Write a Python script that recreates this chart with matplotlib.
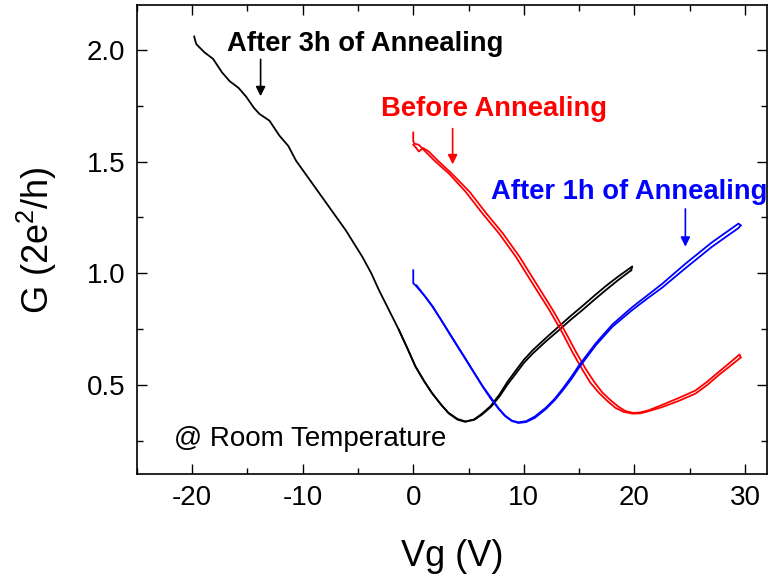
import matplotlib
matplotlib.use("Agg")
import matplotlib.pyplot as plt
from matplotlib.ticker import MultipleLocator

# -----------------------------------------
# STYLE
# -----------------------------------------
plt.rcParams["font.family"] = ["Liberation Sans", "DejaVu Sans"]
plt.rcParams["mathtext.default"] = "regular"
plt.rcParams["axes.unicode_minus"] = False

# -----------------------------------------
# DATA
# -----------------------------------------
# after 3h of annealing, forward sweep (-20 -> 20 V)
vg_3h_fwd = [-19.8, -19.7, -19.6, -18.9, -18.1, -17.3, -16.6, -15.8, -15.1, -14.4, -13.9,
             -13.0, -12.1, -11.3, -10.6, -9.1, -7.6, -6.1, -4.6, -3.8, -3.1, -2.2, -1.3,
             -0.5, 0.2, 1.0, 1.7, 2.5, 3.2, 4.0, 4.7, 5.5, 6.2, 7.0, 7.8, 8.5, 9.3,
             10.0, 10.8, 12.0, 13.2, 14.2, 15.3, 16.3, 17.4, 18.5, 19.7]
g_3h_fwd = [2.06, 2.04, 2.025, 1.99, 1.96, 1.90, 1.86, 1.83, 1.79, 1.74, 1.713,
            1.683, 1.616, 1.57, 1.504, 1.40, 1.296, 1.192, 1.073, 1.0, 0.924, 0.835, 0.746,
            0.66, 0.582, 0.515, 0.463, 0.412, 0.374, 0.347, 0.336, 0.343, 0.366, 0.40, 0.448, 0.50, 0.552,
            0.598, 0.64, 0.695, 0.746, 0.79, 0.835, 0.878, 0.924, 0.968, 1.013]
# after 3h of annealing, backward sweep (20 -> -1 V)
vg_3h_bwd = [19.7, 19.8, 18.5, 17.4, 16.3, 15.3, 14.2, 13.2, 12.0, 10.8, 10.0, 9.3, 8.5,
             7.8, 7.0, 6.2, 5.5, 4.7, 4.0, 3.2, 2.5, 1.7, 1.0, 0.2, -0.5, -1.3]
g_3h_bwd = [1.013, 1.03, 0.984, 0.942, 0.896, 0.853, 0.807, 0.763, 0.71, 0.655, 0.612, 0.566, 0.512,
            0.457, 0.405, 0.37, 0.345, 0.334, 0.344, 0.372, 0.412, 0.462, 0.515, 0.582, 0.66, 0.746]

# before annealing, forward sweep (0 -> 30 V)
vg_0h_fwd = [0.0, 0.0, 0.1, 0.5, 0.8, 1.15, 2.0, 3.25, 4.76, 6.26, 7.77, 9.28, 10.78,
             12.3, 13.5, 14.4, 15.3, 16.0, 16.8, 17.6, 18.3, 19.0, 19.8, 20.5, 21.0, 22.5,
             24.0, 25.5, 26.6, 27.6, 28.6, 29.6]
g_0h_fwd = [1.63, 1.59, 1.58, 1.575, 1.56, 1.542, 1.50, 1.445, 1.363, 1.267, 1.177, 1.073, 0.954,
            0.835, 0.731, 0.645, 0.567, 0.51, 0.463, 0.425, 0.396, 0.379, 0.371, 0.372, 0.378, 0.40,
            0.428, 0.46, 0.50, 0.543, 0.582, 0.622]
# before annealing, backward sweep (30 -> 0 V)
vg_0h_bwd = [29.6, 29.5, 28.6, 27.6, 26.6, 25.5, 24.0, 22.5, 21.3, 20.5, 19.9, 19.2, 18.6,
             17.9, 17.1, 16.4, 15.6, 14.7, 13.8, 12.6, 11.1, 9.6, 8.1, 6.6, 5.1, 3.5,
             2.2, 1.4, 0.9, 0.5, 0.2, 0.0]
g_0h_bwd = [0.622, 0.636, 0.598, 0.557, 0.515, 0.474, 0.441, 0.41, 0.386, 0.376, 0.374, 0.382, 0.40,
            0.428, 0.465, 0.51, 0.57, 0.648, 0.732, 0.836, 0.955, 1.074, 1.178, 1.268, 1.364, 1.445,
            1.505, 1.545, 1.56, 1.545, 1.565, 1.575]

# after 1h of annealing, forward sweep (0 -> 30 V)
vg_1h_fwd = [0.0, 0.0, 0.3, 1.0, 1.74, 2.5, 3.25, 4.0, 4.76, 5.5, 6.26, 7.0, 7.77, 8.3, 8.9,
             9.5, 10.2, 11.0, 12.0, 12.8, 13.5, 14.3, 15.0, 16.5, 18.0, 19.8, 21.2, 22.5,
             24.6, 27.0, 29.4, 29.6]
g_1h_fwd = [1.013, 0.955, 0.94, 0.9, 0.85, 0.792, 0.731, 0.672, 0.612, 0.553, 0.493, 0.438, 0.389,
            0.36, 0.338, 0.329, 0.333, 0.352, 0.392, 0.432, 0.474, 0.526, 0.578, 0.677, 0.76, 0.835,
            0.888, 0.935, 1.022, 1.118, 1.202, 1.214]
# after 1h of annealing, backward sweep (30 -> 0 V)
vg_1h_bwd = [29.6, 29.4, 27.0, 24.6, 22.5, 21.2, 19.8, 18.0, 16.5, 15.0, 14.3, 13.5, 12.8,
             12.0, 11.0, 10.2, 9.5, 8.9, 8.3, 7.77, 6.26, 4.76, 3.25, 1.74, 0.3]
g_1h_bwd = [1.214, 1.222, 1.138, 1.042, 0.952, 0.902, 0.848, 0.77, 0.686, 0.588, 0.536, 0.482, 0.438,
            0.398, 0.358, 0.337, 0.332, 0.34, 0.362, 0.391, 0.495, 0.614, 0.733, 0.852, 0.945]

# -----------------------------------------
# PLOT
# -----------------------------------------
fig = plt.figure(figsize=(7.68, 5.81), dpi=100)
ax = fig.add_axes([0.178, 0.184, 0.821, 0.807])

ax.plot(vg_3h_fwd, g_3h_fwd, color="black", lw=1.3)
ax.plot(vg_3h_bwd, g_3h_bwd, color="black", lw=1.3)
ax.plot(vg_0h_fwd, g_0h_fwd, color="#ff0000", lw=1.3)
ax.plot(vg_0h_bwd, g_0h_bwd, color="#ff0000", lw=1.3)
ax.plot(vg_1h_fwd, g_1h_fwd, color="#0000ff", lw=1.3)
ax.plot(vg_1h_bwd, g_1h_bwd, color="#0000ff", lw=1.3)

# labels + arrows
ax.text(-16.8, 1.995, "After 3h of Annealing", color="black", fontsize=19.7, fontweight="bold")
ax.annotate("", xy=(-13.8, 1.78), xytext=(-13.8, 1.97),
            arrowprops=dict(arrowstyle="-|>", color="black", lw=1.2, mutation_scale=14))
ax.text(-2.9, 1.705, "Before Annealing", color="#ff0000", fontsize=19.7, fontweight="bold")
ax.annotate("", xy=(3.56, 1.475), xytext=(3.56, 1.66),
            arrowprops=dict(arrowstyle="-|>", color="#ff0000", lw=1.2, mutation_scale=14))
ax.text(7.05, 1.334, "After 1h of Annealing", color="#0000ff", fontsize=19.7, fontweight="bold")
ax.annotate("", xy=(24.6, 1.106), xytext=(24.6, 1.30),
            arrowprops=dict(arrowstyle="-|>", color="#0000ff", lw=1.2, mutation_scale=14))
ax.text(-21.6, 0.2245, "@ Room Temperature", color="black", fontsize=20)

# axes
ax.set_xlim(-25, 32)
ax.set_ylim(0.1, 2.2)
ax.xaxis.set_major_locator(MultipleLocator(10))
ax.xaxis.set_minor_locator(MultipleLocator(5))
ax.yaxis.set_major_locator(MultipleLocator(0.5))
ax.yaxis.set_minor_locator(MultipleLocator(0.25))
ax.tick_params(which="both", direction="in", top=True, right=True, width=1.0,
               labelsize=20, pad=8)
ax.tick_params(which="major", length=7)
ax.tick_params(which="minor", length=4)
for s in ax.spines.values():
    s.set_linewidth(1.2)

ax.set_xlabel("Vg (V)", fontsize=26, labelpad=20)
ax.set_ylabel("G (2e$^2$/h)", fontsize=26, labelpad=20)

plt.savefig("out.png", dpi=100)
